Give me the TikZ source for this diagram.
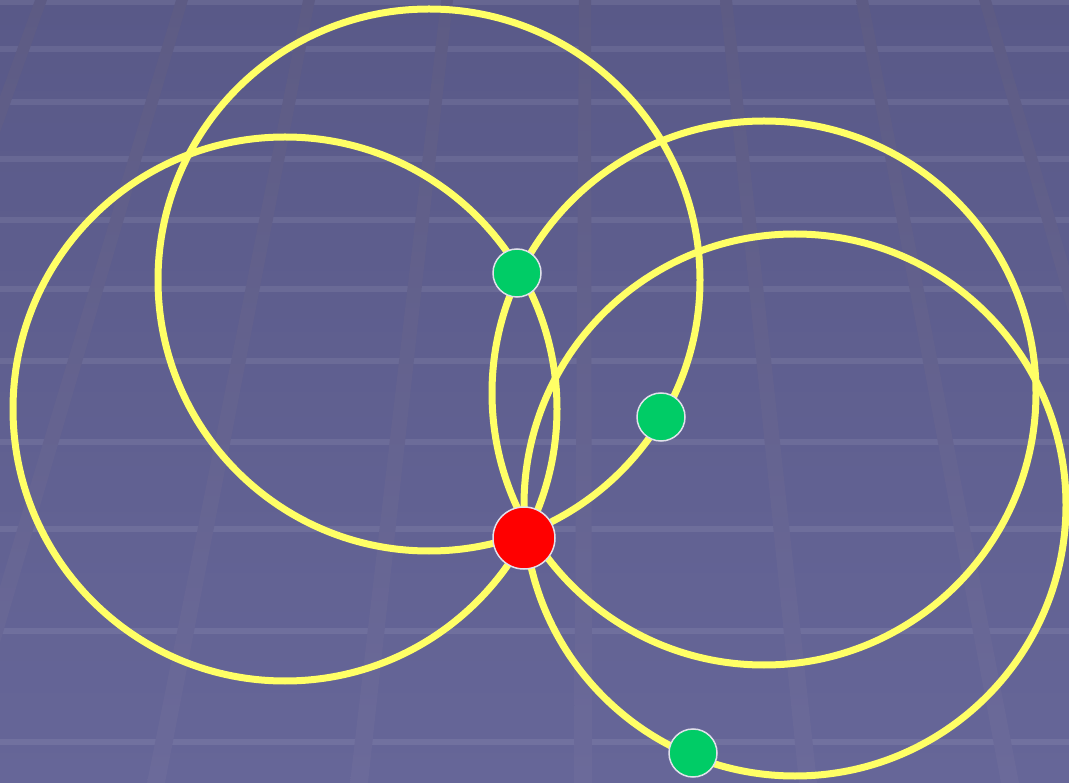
\documentclass[tikz,border=0pt]{standalone}
\definecolor{bgtop}{RGB}{89,89,136}
\definecolor{bgbot}{RGB}{102,102,152}
\definecolor{vltop}{RGB}{93,91,132}
\definecolor{vlbot}{RGB}{107,106,154}
\definecolor{ringyellow}{RGB}{255,255,102}
\definecolor{dotgreen}{RGB}{0,204,102}
\definecolor{dotrim}{RGB}{225,225,235}
\begin{document}
\begin{tikzpicture}[x=1pt,y=-1pt,
  ring/.style={draw=ringyellow, line width=7pt},
  hline/.style={draw=white, opacity=0.08, line width=6pt},
  vstrip/.style={top color=vltop, bottom color=vlbot},
  reddot/.style={circle, fill=red, draw=dotrim, line width=1.5pt, minimum size=62pt, inner sep=0pt},
  greendot/.style={circle, fill=dotgreen, draw=dotrim, line width=1.5pt, minimum size=48pt, inner sep=0pt}]
\useasboundingbox (0,0) rectangle (1069,783);
\clip (0,0) rectangle (1069,783);
% background
\shade[top color=bgtop, bottom color=bgbot] (0,0) rectangle (1069,783);
% horizontal grid lines
\foreach \yy in {2,49,102,159,220,289,361,442,529,631,742}
  \draw[hline] (0,\yy) -- (1069,\yy);
% converging grid lines
\foreach \t/\b in {41/-240, 182/-50, 309/156, 447/359, 585/583, 726/808, 862/1010, 985/1212}
  \shade[vstrip] (\t-6,0) -- (\t+6,0) -- (\b+9,783) -- (\b-9,783) -- cycle;
% circles
\draw[ring] (285,409) circle[radius=272pt];
\draw[ring] (429,280) circle[radius=271pt];
\draw[ring] (764,393) circle[radius=272pt];
\draw[ring] (795,505) circle[radius=271pt];
% points
\node[greendot] (g1) at (517,273) {};
\node[greendot] (g2) at (661,417) {};
\node[greendot] (g3) at (693,753) {};
\node[reddot] (r) at (524,538) {};
\end{tikzpicture}
\end{document}
